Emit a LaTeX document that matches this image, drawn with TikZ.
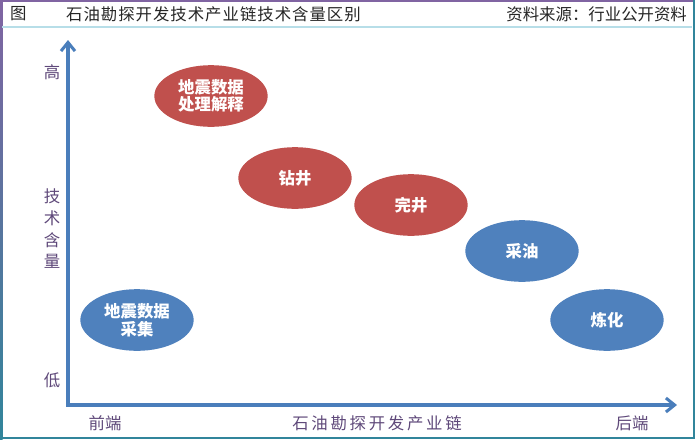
\documentclass[tikz,border=0pt]{standalone}
\usepackage{fontspec}
\usepackage{tikz}
\usetikzlibrary{arrows.meta, positioning, shapes.geometric}
\newfontfamily\cjk{Noto Sans CJK SC}
\newfontfamily\cjkwide[LetterSpace=6]{Noto Sans CJK SC}
\definecolor{oilred}{RGB}{192,80,77}
\definecolor{oilblue}{RGB}{79,129,189}
\definecolor{axisblue}{RGB}{74,126,187}
\definecolor{labelpurple}{RGB}{95,73,122}
\definecolor{framepurple}{RGB}{128,100,162}
\definecolor{frameteal}{RGB}{49,133,155}
\definecolor{headcyan}{RGB}{183,222,232}

\tikzset{
  stage/.style={ellipse, minimum width=3.4cm, minimum height=1.85cm, inner sep=0pt,
    text=white, align=center, font=\cjk\bfseries\fontsize{14}{17}\selectfont},
  redstage/.style={stage, fill=oilred},
  bluestage/.style={stage, fill=oilblue},
  axislabel/.style={text=labelpurple, font=\cjk\fontsize{14}{18.5}\selectfont, align=center},
  headtext/.style={text=black!85, font=\cjk\fontsize{14}{17}\selectfont}
}

\begin{document}
\begin{tikzpicture}[x=0.03cm, y=-0.03cm]
      \useasboundingbox (0,0) rectangle (695,439);
      % frame and header
      \fill[white] (0,0) rectangle (695,439);
      \shade[top color=framepurple, bottom color=frameteal] (0,0) rectangle (2.5,439);
      \draw[framepurple, line width=1pt] (0,1) -- (694,1);
      \draw[frameteal, line width=1pt] (694,0) -- (694,438) -- (0,438);
      \draw[headcyan, line width=1.5pt] (2,27) -- (692,27);
      \node[headtext, anchor=west] (fig) at (6,14) {图};
      \node[headtext, font=\cjkwide\fontsize{14}{17}\selectfont, anchor=west] (title) at (62,14) {石油勘探开发技术产业链技术含量区别};
      \node[headtext, anchor=east] (source) at (691,14) {资料来源：行业公开资料};
      % axes
      \coordinate (origin) at (68,405);
      \coordinate (xend) at (677,405);
      \coordinate (yend) at (68,40);
      \draw[axisblue, line width=2.6pt, {Straight Barb[length=2.6mm, width=4.2mm]}-{Straight Barb[length=2.6mm, width=4.2mm]}]
        (yend) -- (origin) -- (xend);
      \node[axislabel] (high) at (52,72) {高};
      \node[axislabel] (techlvl) at (52,229) {技\\术\\含\\量};
      \node[axislabel] (low) at (52,380) {低};
      \node[axislabel] (front) at (105,423) {前端};
      \node[axislabel] (chain) at (377,423) {石\,油\,勘\,探\,开\,发\,产\,业\,链};
      \node[axislabel] (back) at (632,423) {后端};
      % stages
      \node[redstage] (seisproc) at (211,96) {地震数据\\[-2pt]处理解释};
      \node[redstage] (drill) at (295,178) {钻井};
      \node[redstage] (complete) at (411,205) {完井};
      \node[bluestage] (produce) at (522,251) {采油};
      \node[bluestage] (refine) at (607,320) {炼化};
      \node[bluestage] (seisacq) at (137,320) {地震数据\\[-2pt]采集};
    \end{tikzpicture}
\end{document}
